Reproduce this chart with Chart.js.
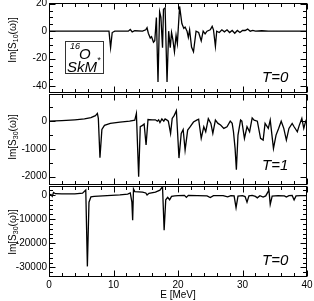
<!DOCTYPE html>
<html><head><meta charset="utf-8">
<script src="https://cdn.jsdelivr.net/npm/chart.js@4.4.0/dist/chart.umd.min.js"></script>
<style>
html,body{margin:0;padding:0;background:#fff;}
#wrap{position:relative;width:314px;height:301px;overflow:hidden;background:#fff;}
canvas{position:absolute;left:0;}
</style></head><body>
<div id="wrap">
<canvas id="k1" width="314" height="96" style="top:0px"></canvas>
<canvas id="k2" width="314" height="94" style="top:93px"></canvas>
<canvas id="k3" width="314" height="117" style="top:184px"></canvas>
</div>
<script>
// ---- data ----
const X_MAJOR = [0, 10, 20, 30, 40];
const X_MINOR = [2,4,6,8,12,14,16,18,22,24,26,28,32,34,36,38];

const P1_YTICKS = [-40, -20, 0, 20];
const P1_YMINOR = [-35,-30,-25,-15,-10,-5,5,10,15];
const P1_E = [0,9.3,9.55,9.8,10.2,12.3,12.6,12.9,13.3,14.5,15.0,15.2,15.4,15.7,15.9,16.2,16.4,16.65,16.9,17.15,17.35,17.6,17.75,18.0,18.3,18.55,18.8,19.0,19.2,19.45,19.7,19.9,20.25,20.6,20.9,21.1,21.4,21.6,21.8,22.1,22.4,22.8,23.2,23.6,23.9,24.2,24.5,25.0,25.3,25.5,25.8,26.0,26.4,26.8,27.2,27.6,28.0,28.4,28.8,29.2,29.6,30.0,30.4,30.8,31.2,31.6,32.0,33.0,34.0,35.0,40.0];
const P1_V = [0,0,-12,-1,0,0,1.2,-0.5,0.3,0,1,2.5,-1.5,-5,-4,-8,-7,10,-37,14,10,-12,16,17,-37,0,-12,-1,-6,-15,-3,-9,18,5.6,2,3,0,-4.5,1,-11.5,-15,0,-1,-7,0,-2,0,1,3.5,1,-11,0,-1,1,-0.5,1,-1,0.5,-1.5,0.5,-1,0.5,0.5,1.5,0,0.5,0,0.3,0,0,0];

const P2_YTICKS = [-2000, -1000, 0];
const P2_YMINOR = [-1500, -500, 500];
const P2_E = [0,2,4,5.5,6.5,7.2,7.5,7.65,7.9,8.2,8.6,9.5,11,12.5,13.3,13.55,13.9,14.15,14.5,14.75,15.05,15.35,16.0,16.5,16.8,17.0,17.2,17.5,17.8,18.0,18.3,18.5,18.85,19.1,19.4,19.75,20.15,20.5,20.8,21.1,21.5,21.9,22.4,22.9,23.2,23.6,24.0,24.3,24.7,25.1,25.4,25.8,26.2,26.6,27.1,27.6,28.1,28.4,28.6,28.85,29.05,29.3,29.7,29.9,30.3,30.7,31.1,31.5,31.8,32.3,32.8,33.2,33.5,34.0,34.3,34.8,35.2,35.6,36.0,36.4,36.8,37.2,37.7,38.0,38.5,38.8,39.2,39.5,39.8,40.0];
const P2_V = [0,20,50,80,130,200,280,100,-1320,-300,-150,-80,-30,0,40,280,-2000,-200,-150,-100,-860,60,50,50,0,50,-50,80,0,80,40,0,-440,100,200,380,-1330,-440,-300,-1040,-320,-200,-30,40,70,-620,-200,-380,90,-80,-440,40,-80,-140,-260,-200,0,-80,-380,-980,-1750,-500,40,0,-620,-200,-380,120,40,0,-620,-680,-80,-260,40,-980,-500,-260,0,-260,-680,-260,-80,-200,-380,-150,100,-260,0,100];

const P3_YTICKS = [-30000, -20000, -10000, 0];
const P3_YMINOR = [-32000,-28000,-26000,-24000,-22000,-18000,-16000,-14000,-12000,-8000,-6000,-4000,-2000,2000];
const P3_E = [0,0.3,0.5,0.7,1.0,2,4,5.2,5.7,5.95,6.2,6.5,7,9,11,12.2,12.6,12.85,12.97,13.1,13.3,14.5,15.0,15.2,15.5,16.5,17.2,17.6,17.85,18.1,18.4,18.7,19.0,19.5,20,21,21.3,21.6,23,24.5,25,25.5,27,27.7,28.2,28.7,29.0,29.3,30,30.4,30.7,31.0,31.5,32.0,32.3,32.7,33.2,33.6,34.1,34.3,34.6,35.5,36.5,36.8,37.2,37.7,38.0,38.3,39,40];
const P3_V = [0,200,-600,1000,500,400,400,700,2000,-29600,-3000,-800,-600,-300,0,300,800,-3000,-10500,2500,1400,1200,800,0,700,1200,2000,3400,-14600,-2000,-1000,-2000,-600,-400,-300,-200,-1000,-200,-300,-400,-1100,-300,-300,-800,-300,-400,-5300,-500,-300,-700,-3000,-400,-200,-600,-1200,-300,-900,-400,2000,-3900,-500,-300,-400,-900,-300,-200,-2100,-400,-300,-300];

// ---- helpers ----
const FONT = '"Liberation Sans", Arial, Helvetica, sans-serif';
function pts(E, V) { return E.map((e, i) => ({x: e, y: V[i]})); }

const framePlugin = {
  id: 'frame',
  afterDraw(chart) {
    const o = chart.options.plugins.frame;
    const {ctx, chartArea: a} = chart;
    const xs = chart.scales.x, ys = chart.scales.y;
    const L = Math.round(a.left) + 0.5, R = Math.round(a.right) - 0.5;
    const T = Math.round(a.top) + 0.5, B = Math.round(a.bottom) - 0.5;
    ctx.save();
    ctx.strokeStyle = '#000';
    ctx.lineWidth = 1;
    ctx.strokeRect(L, T, R - L, B - T);
    ctx.beginPath();
    const xt = (vals, len) => vals.forEach(v => {
      const p = Math.round(xs.getPixelForValue(v)) + 0.5;
      ctx.moveTo(p, T); ctx.lineTo(p, T + len);
      ctx.moveTo(p, B); ctx.lineTo(p, B - len);
    });
    const yt = (vals, len) => vals.forEach(v => {
      const p = Math.round(ys.getPixelForValue(v)) + 0.5;
      ctx.moveTo(L, p); ctx.lineTo(L + len, p);
      ctx.moveTo(R, p); ctx.lineTo(R - len, p);
    });
    xt(X_MAJOR, 6); xt(X_MINOR, 3.5);
    yt(o.yMajor, 6); yt(o.yMinor, 3.5);
    ctx.stroke();

    // y title with subscript (rotated)
    ctx.fillStyle = '#000';
    ctx.translate(o.titleX, o.titleY);
    ctx.rotate(-Math.PI / 2);
    const big = '10px ' + FONT, small = '7px ' + FONT;
    ctx.font = big; const w1 = ctx.measureText(o.t1).width; const w3 = ctx.measureText(o.t3).width;
    ctx.font = small; const w2 = ctx.measureText(o.sub).width;
    let x0 = -(w1 + w2 + w3) / 2;
    ctx.textBaseline = 'alphabetic';
    ctx.font = big; ctx.fillText(o.t1, x0, 3.5);
    ctx.font = small; ctx.fillText(o.sub, x0 + w1, 6);
    ctx.font = big; ctx.fillText(o.t3, x0 + w1 + w2, 3.5);
    ctx.setTransform(1, 0, 0, 1, 0, 0);

    // T label
    ctx.font = 'italic 15px ' + FONT;
    ctx.fillText(o.tLabel, o.tX, o.tY);

    // inset box
    if (o.inset) {
      ctx.strokeStyle = '#333';
      ctx.strokeRect(65.5, 41.5, 38, 32);
      ctx.fillStyle = '#000';
      ctx.font = 'italic 9px ' + FONT;
      ctx.fillText('16', 70, 49);
      ctx.font = 'italic 15px ' + FONT;
      ctx.fillText('O', 79, 59);
      ctx.fillText('SkM', 67, 72);
      ctx.font = 'italic 9px ' + FONT;
      ctx.fillText('*', 97, 63);
    }
    ctx.restore();
  }
};

function makeChart(id, E, V, yMin, yMax, yMajor, yMinor, pad, frameOpts, showX) {
  return new Chart(document.getElementById(id), {
    type: 'line',
    data: { datasets: [{ data: pts(E, V), borderColor: '#000', borderWidth: 1.3, pointRadius: 0, tension: 0, fill: false }] },
    options: {
      responsive: false, animation: false, parsing: false,
      layout: { padding: pad },
      plugins: { legend: { display: false }, tooltip: { enabled: false },
        frame: Object.assign({ yMajor, yMinor }, frameOpts) },
      scales: {
        x: {
          type: 'linear', min: 0, max: 40, display: showX,
          grid: { display: false, drawTicks: false },
          border: { display: false },
          afterBuildTicks: s => { s.ticks = X_MAJOR.map(v => ({ value: v })); },
          afterFit: s => { s.paddingLeft = 0; s.paddingRight = 0; if (showX) s.height = 24; },
          ticks: { color: '#000', font: { size: 10, family: FONT }, padding: 2, maxRotation: 0, callback: v => String(v) },
          title: { display: showX, text: 'E [MeV]', color: '#000', font: { size: 10, family: FONT }, padding: { top: 0, bottom: 0 } }
        },
        y: {
          type: 'linear', min: yMin, max: yMax,
          grid: { display: false, drawTicks: false },
          border: { display: false },
          afterBuildTicks: s => { s.ticks = yMajor.map(v => ({ value: v })); },
          afterFit: s => { s.width = 49; s.paddingTop = 0; s.paddingBottom = 0; },
          ticks: { color: '#000', font: { size: 10, family: FONT }, padding: 2, callback: v => String(v) }
        }
      }
    },
    plugins: [framePlugin]
  });
}

makeChart('k1', P1_E, P1_V, -45, 20.5, P1_YTICKS, P1_YMINOR,
  { top: 3, bottom: 3, left: 0, right: 7 },
  { titleX: 12, titleY: 40, t1: 'Im[S', sub: '10', t3: '(ω)]', tLabel: 'T=0', tX: 262, tY: 82, inset: true }, false);
makeChart('k2', P2_E, P2_V, -2300, 980, P2_YTICKS, P2_YMINOR,
  { top: 1, bottom: 2, left: 0, right: 7 },
  { titleX: 12, titleY: 44, t1: 'Im[S', sub: '30', t3: '(ω)]', tLabel: 'T=1', tX: 262, tY: 77 }, false);
makeChart('k3', P3_E, P3_V, -34000, 3700, P3_YTICKS, P3_YMINOR,
  { top: 2, bottom: 0, left: 0, right: 7 },
  { titleX: 12, titleY: 48, t1: 'Im[S', sub: '30', t3: '(ω)]', tLabel: 'T=0', tX: 262, tY: 81 }, true);
</script>
</body></html>
